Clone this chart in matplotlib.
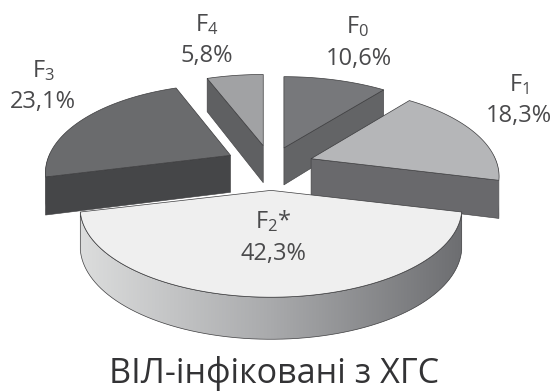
import numpy as np
import matplotlib.pyplot as plt
from matplotlib.patches import Polygon
from matplotlib.colors import LinearSegmentedColormap

grades = ['F$_0$', 'F$_1$', 'F$_2$*', 'F$_3$', 'F$_4$']
shares = [10.6, 18.3, 42.3, 23.1, 5.8]
share_labels = ['10,6%', '18,3%', '42,3%', '23,1%', '5,8%']
chart_title = 'ВІЛ-інфіковані з ХГС'

explode = [0.22, 0.23, 0.28, 0.25, 0.24]
x_scale = [1.0, 0.985, 1.0, 0.97, 1.0]
top_colors = ['#77787b', '#b5b6b8', '#efefef', '#6a6b6d', '#a1a2a4']
side_colors = ['#636466', '#69696c', '#9a9b9d', '#454648', '#5f6062']
grade_xy = [(358, 33), (519, 91), (273, 228), (43, 77), (207, 31)]
share_xy = [(359, 65), (519, 122), (273, 260), (43, 108), (207, 62)]
draw_order = [4, 0, 3, 1, 2]

# pie plane -> pixels, simple perspective
CX, CY = 271, 165
A, B, K = 187.0, 85.5, 0.2
DEPTH, DEPTH_K = 37.0, 0.12


def project(u, v, tip=(CX, CY), sx=1.0):
  w = 1 + K * v
  return tip[0] + sx * A * u / w, tip[1] - B * v / w


def arc_points(t0, t1, n=80):
  t = np.radians(np.linspace(t0, t1, n))
  return np.sin(t), np.cos(t)


def side_strip(us, vs, tip, sx):
  xs, ys = project(us, vs, tip, sx)
  yb = ys + DEPTH / (1 + DEPTH_K * vs)
  return np.column_stack([np.r_[xs, xs[::-1]], np.r_[ys, yb[::-1]]])


plt.rcParams['font.family'] = ['Open Sans', 'DejaVu Sans']
plt.rcParams['mathtext.default'] = 'regular'

fig = plt.figure(figsize=(5.54, 3.92), dpi=100)
ax = fig.add_axes([0, 0, 1, 1])

edges = np.r_[0, np.cumsum(shares)] / np.sum(shares) * 360
gradient = LinearSegmentedColormap.from_list('rim', ['#dcdddd', '#a9aaac', '#6d6e71'])

for i in draw_order:
  t0, t1 = edges[i], edges[i + 1]
  mid = np.radians((t0 + t1) / 2)
  tip = project(explode[i] * np.sin(mid), explode[i] * np.cos(mid))
  us, vs = arc_points(t0, t1)
  sx = x_scale[i]

  # only the walls that face the viewer
  if us[0] < -1e-6:
    wall = side_strip(np.array([0, us[0]]), np.array([0, vs[0]]), tip, sx)
    ax.add_patch(Polygon(wall, fc=side_colors[i], ec='#3c3c3e', lw=0.4))
  if us[-1] > 1e-6:
    wall = side_strip(np.array([0, us[-1]]), np.array([0, vs[-1]]), tip, sx)
    ax.add_patch(Polygon(wall, fc=side_colors[i], ec='#3c3c3e', lw=0.4))

  front = vs < 0.05
  if front.any():
    rim = side_strip(us[front], vs[front], tip, sx)
    if i == 2:
      rim_patch = Polygon(rim, fc='none', ec='#3c3c3e', lw=0.5)
      ax.add_patch(rim_patch)
      x0, x1 = rim[:, 0].min(), rim[:, 0].max()
      y0, y1 = rim[:, 1].min(), rim[:, 1].max()
      img = ax.imshow(np.linspace(0, 1, 256)[None, :], cmap=gradient, aspect='auto',
                      extent=(x0, x1, y1, y0), zorder=rim_patch.get_zorder() - 0.1)
      img.set_clip_path(rim_patch)
    else:
      ax.add_patch(Polygon(rim, fc=side_colors[i], ec='none'))

  xs, ys = project(np.r_[0, us], np.r_[0, vs], tip, sx)
  ax.add_patch(Polygon(np.column_stack([xs, ys]), fc=top_colors[i], ec='#3c3c3e', lw=0.5))

for grade, share, gxy, sxy in zip(grades, share_labels, grade_xy, share_xy):
  ax.text(gxy[0], gxy[1], grade, ha='center', va='baseline', fontsize=17,
          color='#4a4a4c', zorder=5)
  ax.text(sxy[0], sxy[1], share, ha='center', va='baseline', fontsize=17,
          color='#4a4a4c', zorder=5)

ax.text(274, 383, chart_title, ha='center', va='baseline', fontsize=24.6, color='#333335')

ax.set_xlim(0, 554)
ax.set_ylim(392, 0)
ax.axis('off')

fig.savefig('out.png', dpi=100, facecolor='white')
